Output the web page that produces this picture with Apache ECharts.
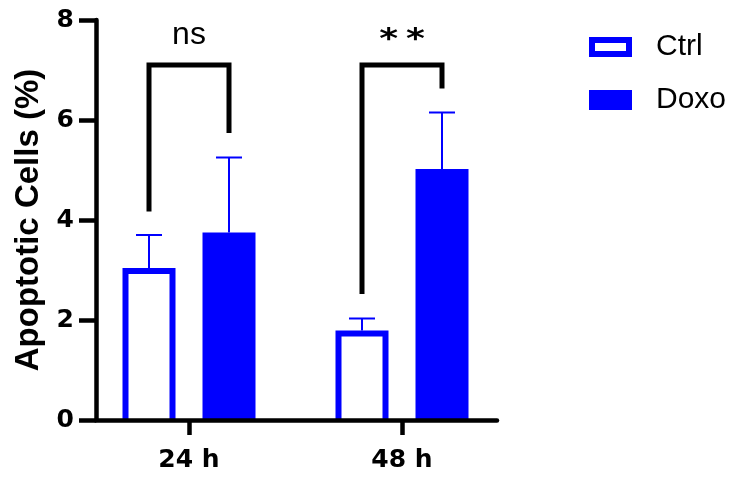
<!DOCTYPE html>
<html><head><meta charset="utf-8">
<script src="https://cdn.jsdelivr.net/npm/echarts@6/dist/echarts.min.js"></script>
<style>html,body{margin:0;padding:0;background:#fff}#c{width:736px;height:478px}</style>
</head><body><div id="c"></div>
<script>
const categories = ['24 h', '48 h'];
const seriesNames = ['Ctrl', 'Doxo'];
const ctrlMean = [3.04, 1.79];
const ctrlSD = [0.66, 0.24];
const doxoMean = [3.75, 5.02];
const doxoSD = [1.50, 1.13];
const bracketTop = [7.1, 7.1];
const bracketLeftEnd = [4.17, 2.52];
const bracketRightEnd = [5.74, 6.63];
const sigLabels = ['ns', '**'];
const yAxisTitle = 'Apoptotic Cells (%)';

const BLUE = '#0000ff';
const BAR_W = 53, BAR_OFF = 40, STROKE = 6, CAP = 26;

function barRender(sign, hollow) {
  return function (params, api) {
    const cat = api.value(0), mean = api.value(1), sd = api.value(2);
    const base = api.coord([cat, 0]);
    const top = api.coord([cat, mean]);
    const errTop = api.coord([cat, mean + sd]);
    const cx = base[0] + sign * BAR_OFF;
    const x0 = cx - BAR_W / 2, x1 = cx + BAR_W / 2;
    const children = [];
    if (hollow) {
      children.push({type: 'rect', shape: {x: x0, y: top[1], width: BAR_W, height: base[1] - top[1]}, style: {fill: '#fff'}});
      children.push({type: 'polyline', shape: {points: [[x0 + STROKE / 2, base[1]], [x0 + STROKE / 2, top[1] + STROKE / 2], [x1 - STROKE / 2, top[1] + STROKE / 2], [x1 - STROKE / 2, base[1]]]},
        style: {fill: null, stroke: BLUE, lineWidth: STROKE, lineJoin: 'miter'}});
    } else {
      children.push({type: 'rect', shape: {x: x0, y: top[1], width: BAR_W, height: base[1] - top[1]}, style: {fill: BLUE}});
    }
    children.push({type: 'line', shape: {x1: cx, y1: top[1], x2: cx, y2: errTop[1]}, style: {stroke: BLUE, lineWidth: 2}});
    children.push({type: 'line', shape: {x1: cx - CAP / 2, y1: errTop[1], x2: cx + CAP / 2, y2: errTop[1]}, style: {stroke: BLUE, lineWidth: 2}});
    return {type: 'group', children: children};
  };
}

function bracketRender(params, api) {
  const cat = api.value(0);
  const topP = api.coord([cat, api.value(1)]);
  const leftP = api.coord([cat, api.value(2)]);
  const rightP = api.coord([cat, api.value(3)]);
  const lx = topP[0] - BAR_OFF, rx = topP[0] + BAR_OFF;
  const label = sigLabels[params.dataIndex];
  const children = [{
    type: 'polyline',
    shape: {points: [[lx, leftP[1]], [lx, topP[1]], [rx, topP[1]], [rx, rightP[1]]]},
    style: {fill: null, stroke: '#000', lineWidth: 5, lineJoin: 'miter'}
  }];
  if (label === 'ns') {
    children.push({type: 'text', x: topP[0], y: topP[1] - 30,
      style: {text: label, align: 'center', verticalAlign: 'middle', fontFamily: 'Liberation Sans', fontSize: 32, fill: '#000'}});
  } else {
    const parts = label.split('').map(ch => '{a|' + ch + '}').join('{s|}');
    children.push({type: 'text', x: topP[0], y: topP[1] - 24, scaleY: 0.78,
      style: {text: parts, align: 'center', verticalAlign: 'middle',
        rich: {a: {fontFamily: 'DejaVu Sans', fontWeight: 'bold', fontSize: 36, fill: '#000'}, s: {width: 8}}}});
  }
  return {type: 'group', children: children};
}

const chart = echarts.init(document.getElementById('c'), null, {renderer: 'canvas'});
const labelStyle = {fontFamily: 'DejaVu Sans', fontWeight: 'bold', fontSize: 25, color: '#000'};
chart.setOption({
  animation: false,
  backgroundColor: '#fff',
  grid: [
    {left: 96, top: 20, width: 401, height: 400, outerBoundsMode: 'none'},
    {left: 82.5, top: 20, width: 426, height: 400, outerBoundsMode: 'none'}
  ],
  legend: {
    orient: 'vertical', left: 589, top: 32, padding: 0, itemWidth: 37, itemHeight: 14, itemGap: 23,
    selectedMode: false,
    data: [
      {name: seriesNames[0], icon: 'rect', itemStyle: {color: '#fff', borderColor: BLUE, borderWidth: 6}},
      {name: seriesNames[1], icon: 'rect', itemStyle: {color: BLUE, borderColor: BLUE, borderWidth: 6}}
    ],
    formatter: n => '{g|}{t|' + n + '}',
    textStyle: {rich: {g: {width: 22}, t: {fontFamily: 'Liberation Sans', fontSize: 30, lineHeight: 30, color: '#000'}}}
  },
  xAxis: [
    {gridIndex: 0, type: 'value', min: 0, max: 1, z: 5,
      axisLine: {show: true, lineStyle: {color: '#000', width: 4.5}},
      axisTick: {show: false}, axisLabel: {show: false}, splitLine: {show: false}},
    {gridIndex: 1, type: 'category', data: categories, z: 5,
      axisLine: {show: false},
      axisTick: {show: true, alignWithLabel: true, length: 15, lineStyle: {color: '#000', width: 4.5}},
      axisLabel: Object.assign({margin: 28}, labelStyle), splitLine: {show: false}}
  ],
  yAxis: [
    {gridIndex: 0, type: 'value', min: 0, max: 8, interval: 2, z: 5,
      axisLine: {show: true, lineStyle: {color: '#000', width: 4.5}},
      axisTick: {show: true, length: 17, lineStyle: {color: '#000', width: 4.5}},
      axisLabel: Object.assign({margin: 22}, labelStyle), splitLine: {show: false},
      name: yAxisTitle, nameLocation: 'middle', nameRotate: 90, nameGap: 49,
      nameTextStyle: {fontFamily: 'Liberation Sans', fontWeight: 'bold', fontSize: 33, color: '#000'}},
    {gridIndex: 1, type: 'value', min: 0, max: 8, interval: 2, show: false}
  ],
  series: [
    {type: 'custom', name: seriesNames[0], xAxisIndex: 1, yAxisIndex: 1, itemStyle: {color: BLUE},
      data: categories.map((c, i) => [i, ctrlMean[i], ctrlSD[i]]), renderItem: barRender(-1, true)},
    {type: 'custom', name: seriesNames[1], xAxisIndex: 1, yAxisIndex: 1, itemStyle: {color: BLUE},
      data: categories.map((c, i) => [i, doxoMean[i], doxoSD[i]]), renderItem: barRender(1, false)},
    {type: 'custom', name: 'significance', xAxisIndex: 1, yAxisIndex: 1, silent: true,
      data: categories.map((c, i) => [i, bracketTop[i], bracketLeftEnd[i], bracketRightEnd[i]]), renderItem: bracketRender}
  ]
});
</script></body></html>
